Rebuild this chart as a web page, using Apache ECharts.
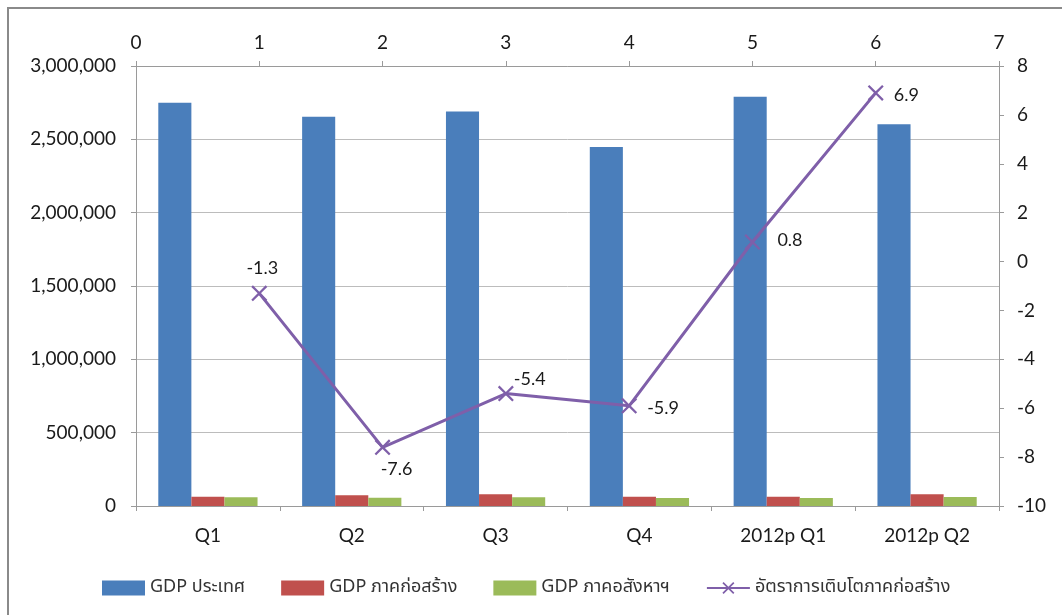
<!DOCTYPE html>
<html><head><meta charset="utf-8">
<script src="https://cdn.jsdelivr.net/npm/echarts@6/dist/echarts.min.js"></script>
<style>html,body{margin:0;padding:0;background:#fff}#c{width:1062px;height:615px}</style>
</head><body><div id="c"></div>
<script>
const categories = ['Q1','Q2','Q3','Q4','2012p Q1','2012p Q2'];
const gdpCountry = [2750000, 2654000, 2689000, 2448000, 2791000, 2602000];
const gdpConstruction = [63000, 73000, 80000, 63000, 63000, 80000];
const gdpRealEstate = [60000, 57000, 60000, 55000, 55000, 62000];
const growthX = [1, 2, 3, 4, 5, 6];
const growthRate = [-1.3, -7.6, -5.4, -5.9, 0.8, 6.9];
const names = ['GDP ประเทศ', 'GDP ภาคก่อสร้าง', 'GDP ภาคอสังหาฯ', 'อัตราการเติบโตภาคก่อสร้าง'];

const labelLayout = [
  {position: 'top', offset: [3, 2]},
  {position: 'bottom', offset: [14, -5]},
  {position: 'right', offset: [-10, -14]},
  {position: 'right', offset: [0, 2]},
  {position: 'right', offset: [7, -2]},
  {position: 'right', offset: [0, 2]}
];

const font = 'Lato, "Open Sans", sans-serif';
const thaiFont = '"Noto Sans Thai", "Noto Sans", "Liberation Sans", sans-serif';
const axisLine = {show: true, onZero: false, lineStyle: {color: '#9a9a9a', width: 1}};
const axisTick = {show: true, length: 5, lineStyle: {color: '#9a9a9a'}};
const lbl = {color: '#1a1a1a', fontSize: 19, fontFamily: font};

const chart = echarts.init(document.getElementById('c'));
const xSymbol = 'path://M0,1 L1,0 L5,4 L9,0 L10,1 L6,5 L10,9 L9,10 L5,6 L1,10 L0,9 L4,5 Z';

chart.setOption({
  backgroundColor: '#fff',
  animation: false,
  graphic: [{type: 'rect', shape: {x: 8, y: 8, width: 1070, height: 620}, style: {fill: 'none', stroke: '#8a8a8a', lineWidth: 2}, silent: true}],
  grid: {left: 136, right: 63, top: 66, bottom: 109, containLabel: false},
  legend: {
    top: 574, left: 97, itemWidth: 43, itemHeight: 15, itemGap: 36,
    textStyle: {color: '#333', fontSize: 18, fontFamily: thaiFont},
    data: [
      {name: names[0], icon: 'rect'},
      {name: names[1], icon: 'rect'},
      {name: names[2], icon: 'rect'},
      {name: names[3]}
    ]
  },
  xAxis: [
    {type: 'category', data: categories, position: 'bottom', axisLine, axisTick,
     axisLabel: Object.assign({margin: 20}, lbl), splitLine: {show: false}},
    {type: 'value', position: 'top', min: 0, max: 7, interval: 1, axisLine, axisTick,
     axisLabel: Object.assign({margin: 14}, lbl), splitLine: {show: false}}
  ],
  yAxis: [
    {type: 'value', min: 0, max: 3000000, interval: 500000, position: 'left', axisLine, axisTick,
     axisLabel: Object.assign({margin: 20, formatter: v => v.toLocaleString('en-US')}, lbl),
     splitLine: {show: true, lineStyle: {color: '#bcbcbc'}}},
    {type: 'value', min: -10, max: 8, interval: 2, position: 'right', axisLine, axisTick,
     axisLabel: Object.assign({margin: 18}, lbl), splitLine: {show: false}}
  ],
  series: [
    {name: names[0], type: 'bar', data: gdpCountry, barGap: '0%', barCategoryGap: '31%', itemStyle: {color: '#4a7ebb'}},
    {name: names[1], type: 'bar', data: gdpConstruction, itemStyle: {color: '#c0504d'}},
    {name: names[2], type: 'bar', data: gdpRealEstate, itemStyle: {color: '#9bbb59'}},
    {name: names[3], type: 'line', xAxisIndex: 1, yAxisIndex: 1,
     data: growthX.map((x, i) => ({value: [x, growthRate[i]], label: labelLayout[i]})),
     symbol: xSymbol, symbolSize: 16, lineStyle: {color: '#7f5fa9', width: 3}, itemStyle: {color: '#7f5fa9'},
     label: {show: true, color: '#1a1a1a', fontSize: 18, fontFamily: font, distance: 10, formatter: p => p.value[1].toFixed(1)}}
  ]
});
</script></body></html>
